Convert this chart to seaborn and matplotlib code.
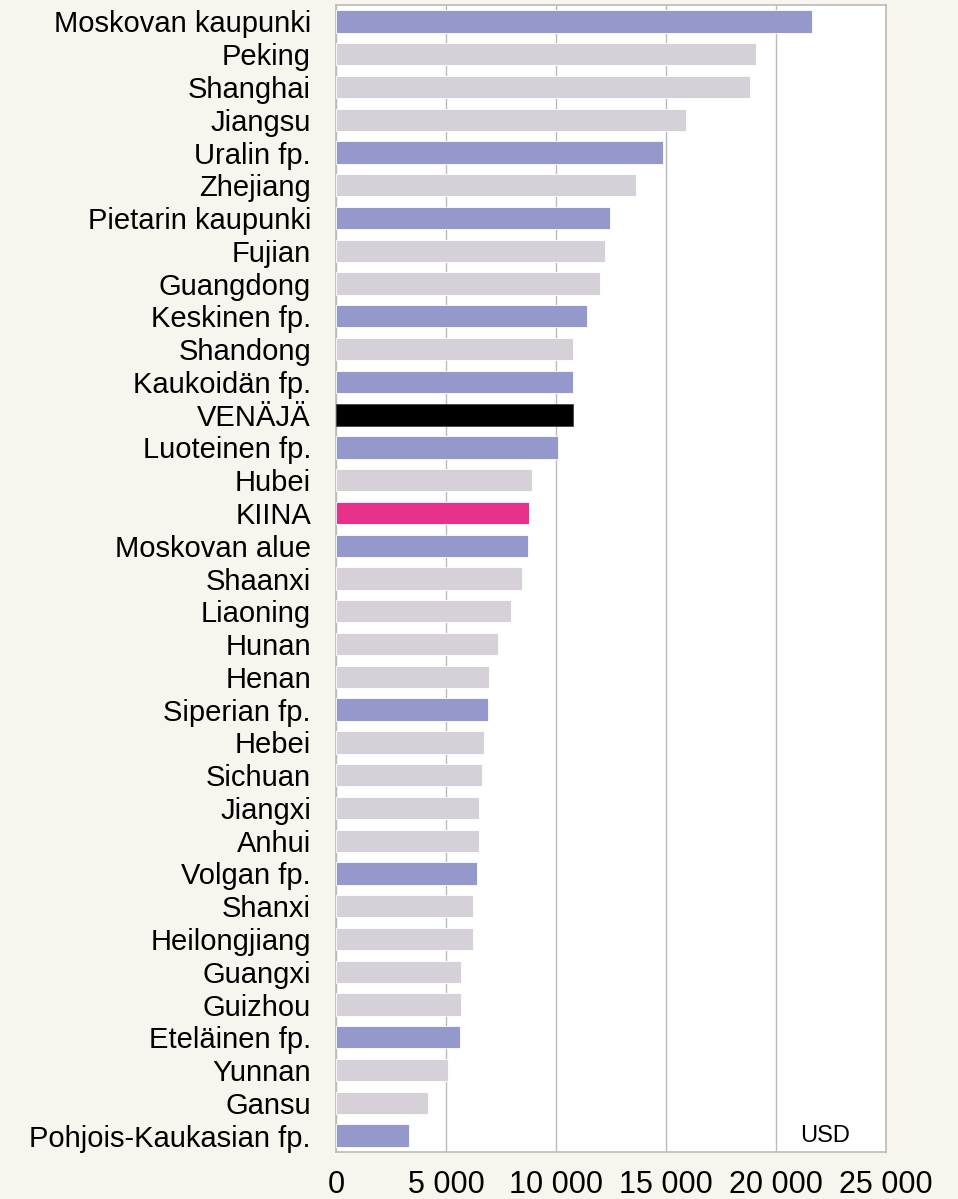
import numpy as np
import pandas as pd
import matplotlib
matplotlib.use("Agg")
import matplotlib.pyplot as plt
import seaborn as sns

REGIONS = [
    "Moskovan kaupunki", "Peking", "Shanghai", "Jiangsu", "Uralin fp.",
    "Zhejiang", "Pietarin kaupunki", "Fujian", "Guangdong", "Keskinen fp.",
    "Shandong", "Kaukoidän fp.", "VENÄJÄ", "Luoteinen fp.", "Hubei",
    "KIINA", "Moskovan alue", "Shaanxi", "Liaoning", "Hunan",
    "Henan", "Siperian fp.", "Hebei", "Sichuan", "Jiangxi",
    "Anhui", "Volgan fp.", "Shanxi", "Heilongjiang", "Guangxi",
    "Guizhou", "Eteläinen fp.", "Yunnan", "Gansu", "Pohjois-Kaukasian fp.",
]
VALUES = [
    21650, 19100, 18800, 15900, 14850,
    13650, 12450, 12250, 12000, 11400,
    10770, 10770, 10770, 10100, 8900,
    8780, 8730, 8450, 7950, 7350,
    6950, 6900, 6750, 6620, 6480,
    6480, 6420, 6230, 6230, 5680,
    5680, 5620, 5100, 4200, 3300,
]
GROUP = [
    "ru", "cn", "cn", "cn", "ru",
    "cn", "ru", "cn", "cn", "ru",
    "cn", "ru", "ru_total", "ru", "cn",
    "cn_total", "ru", "cn", "cn", "cn",
    "cn", "ru", "cn", "cn", "cn",
    "cn", "ru", "cn", "cn", "cn",
    "cn", "ru", "cn", "cn", "ru",
]
X_TICKS = [0, 5000, 10000, 15000, 20000, 25000]

COLORS = {"ru": "#9498CB", "cn": "#D6D0D8", "ru_total": "#000000", "cn_total": "#E8318A"}
BG = "#F8F4EE"

df = pd.DataFrame({"region": REGIONS, "value": VALUES, "group": GROUP})

sns.set_style("white")
plt.rcParams["font.family"] = ["Liberation Sans", "DejaVu Sans"]
plt.rcParams["text.color"] = "black"
plt.rcParams["xtick.color"] = "black"
plt.rcParams["ytick.color"] = "black"

fig = plt.figure(figsize=(9.58, 11.99), dpi=100, facecolor=BG)
ax = fig.add_axes([0.3507, 0.0392, 0.5741, 0.9566])
ax.set_facecolor("white")

sns.barplot(data=df, x="value", y="region", hue="region",
            palette=[COLORS[g] for g in GROUP], legend=False, saturation=1,
            width=0.68, ax=ax, orient="h", zorder=3)
for p, g in zip(ax.patches, GROUP):
    p.set_edgecolor("#ffffff" if g != "ru_total" else "#444444")
    p.set_linewidth(0.6)

ax.set_xlim(0, 25000)
ax.set_ylim(len(REGIONS) - 0.5, -0.5)
ax.set_xticks(X_TICKS)
ax.set_xticklabels([f"{v:,}".replace(",", " ") for v in X_TICKS], fontsize=22,
                   family=["Liberation Sans Narrow", "Liberation Sans", "DejaVu Sans"])
ax.tick_params(axis="x", length=0, pad=13)
ax.tick_params(axis="y", length=0, pad=18, labelsize=21)
ax.xaxis.grid(True, color="#BBBBBB", linewidth=1.0, zorder=0)
ax.set_axisbelow(True)
ax.set_xlabel("")
ax.set_ylabel("")
for s in ax.spines.values():
    s.set_color("#BBBBBB")
    s.set_linewidth(1.2)

ax.text(22250, len(REGIONS) - 1, "USD", fontsize=17, va="center", ha="center")

fig.savefig("out.png", dpi=100, facecolor=BG)
